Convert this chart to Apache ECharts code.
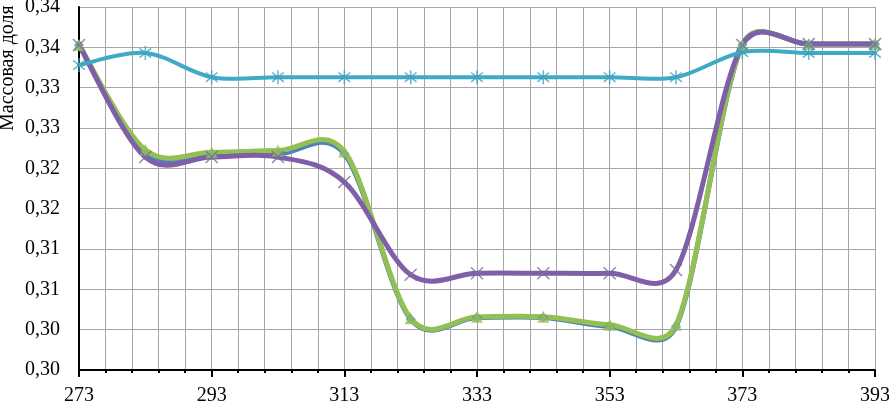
<!DOCTYPE html>
<html>
<head>
<meta charset="utf-8">
<script src="https://cdn.jsdelivr.net/npm/echarts@6/dist/echarts.min.js"></script>
<style>html,body{margin:0;padding:0;background:#fff}#c{width:889px;height:402px}</style>
</head>
<body>
<div id="c"></div>
<script>
// x values (temperature)
var xValues = [273, 283, 293, 303, 313, 323, 333, 343, 353, 363, 373, 383, 393];
// series values (mass fraction, in axis units)
var blueValues   = [0.3403, 0.3268, 0.3267, 0.3268, 0.3268, 0.3063, 0.3065, 0.3065, 0.3054, 0.3054, 0.3403, 0.3404, 0.3404];
var greenValues  = [0.3403, 0.3273, 0.3270, 0.3272, 0.3271, 0.3064, 0.3066, 0.3066, 0.3056, 0.3056, 0.3403, 0.3404, 0.3404];
var purpleValues = [0.3403, 0.3264, 0.3264, 0.3264, 0.3233, 0.3118, 0.3120, 0.3120, 0.3120, 0.3124, 0.3403, 0.3404, 0.3404];
var cyanValues   = [0.3378, 0.3393, 0.3363, 0.3363, 0.3363, 0.3363, 0.3363, 0.3363, 0.3363, 0.3363, 0.3394, 0.3393, 0.3393];
// tick labels
var xTickLabels = [273, 293, 313, 333, 353, 373, 393];
var yTickLabels = ["0,30", "0,30", "0,31", "0,31", "0,32", "0,32", "0,33", "0,33", "0,34", "0,34"];
var yAxisTitle = "Массовая доля";

function pairs(vals) { return xValues.map(function (x, i) { return [x, vals[i]]; }); }

var FONT = '"Liberation Serif", "Times New Roman", serif';
var xSym = 'path://M0,0L10,10M10,0L0,10';
var starSym = 'path://M0,1L10,9M10,1L0,9M5,-1L5,11';

// Smoothed curve (spreadsheet-style Bezier smoothing) drawn via the axes' scales
function ctrlOffset(pa, pb, segLen) {
  var vx = (pb[0] - pa[0]) / 6, vy = (pb[1] - pa[1]) / 6;
  var len = Math.sqrt(vx * vx + vy * vy), lim = segLen / 2;
  if (len > lim && len > 0) { vx *= lim / len; vy *= lim / len; }
  return [vx, vy];
}
function curveSeries(vals, color, width) {
  var n = vals.length;
  return {
    type: 'custom', coordinateSystem: 'cartesian2d', silent: true,
    data: pairs(vals), encode: {x: 0, y: 1},
    renderItem: function (params, api) {
      var i = params.dataIndex;
      if (i >= n - 1) return null;
      function P(j) { j = Math.max(0, Math.min(n - 1, j)); return api.coord([xValues[j], vals[j]]); }
      var p0 = P(i - 1), p1 = P(i), p2 = P(i + 1), p3 = P(i + 2);
      var d12 = Math.sqrt(Math.pow(p2[0] - p1[0], 2) + Math.pow(p2[1] - p1[1], 2));
      var o1 = ctrlOffset(p0, p2, d12), o2 = ctrlOffset(p1, p3, d12);
      return {
        type: 'bezierCurve',
        shape: {
          x1: p1[0], y1: p1[1], x2: p2[0], y2: p2[1],
          cpx1: p1[0] + o1[0], cpy1: p1[1] + o1[1],
          cpx2: p2[0] - o2[0], cpy2: p2[1] - o2[1]
        },
        style: {stroke: color, lineWidth: width, fill: null, lineCap: 'round'}
      };
    }
  };
}
function markerSeries(vals, symbol, size, itemStyle) {
  return {
    type: 'scatter', data: pairs(vals), symbol: symbol, symbolSize: size,
    symbolKeepAspect: true, itemStyle: itemStyle, silent: true
  };
}

var chart = echarts.init(document.getElementById('c'), null, {renderer: 'canvas'});
chart.setOption({
  animation: false,
  backgroundColor: '#fff',
  grid: {left: 79, right: 14, top: 7, bottom: 32, containLabel: false, outerBoundsMode: 'none'},
  graphic: [{
    type: 'text', x: 8, y: 131, rotation: Math.PI / 2,
    style: {text: yAxisTitle, font: '20px ' + FONT, fill: '#000', textAlign: 'left', textVerticalAlign: 'middle'}
  }],
  xAxis: [{
    type: 'value', min: 273, max: 393, interval: 4,
    axisLine: {show: true, lineStyle: {color: '#000', width: 2}},
    axisTick: {show: true, length: 3, lineStyle: {color: '#000', width: 2}},
    splitLine: {show: true, lineStyle: {color: '#a6a6a6', width: 1}},
    axisLabel: {
      show: true, margin: 16, color: '#000', fontFamily: FONT, fontSize: 20,
      showMinLabel: true, showMaxLabel: true, hideOverlap: false,
      formatter: function (v) { return xTickLabels.indexOf(Math.round(v)) >= 0 ? String(Math.round(v)) : ''; }
    }
  }, {
    type: 'value', min: 273, max: 393, interval: 20, position: 'bottom',
    axisLine: {show: false},
    axisTick: {show: true, length: 7, lineStyle: {color: '#000', width: 2}},
    splitLine: {show: false},
    axisLabel: {show: false}
  }],
  yAxis: {
    type: 'value', min: 0.300, max: 0.345, interval: 0.005,
    axisLine: {show: true, lineStyle: {color: '#000', width: 2}},
    axisTick: {show: false},
    splitLine: {show: true, lineStyle: {color: '#a6a6a6', width: 1}},
    axisLabel: {
      margin: 19, color: '#000', fontFamily: FONT, fontSize: 20,
      formatter: function (v) { return yTickLabels[Math.round((v - 0.300) / 0.005)] || ''; }
    }
  },
  series: [
    curveSeries(blueValues, '#4F81BD', 5),
    markerSeries(blueValues, 'diamond', 10, {color: '#4F81BD'}),
    curveSeries(greenValues, '#93C052', 5),
    markerSeries(greenValues, 'triangle', 12, {color: '#93C052'}),
    curveSeries(purpleValues, '#7F5FA8', 5),
    markerSeries(purpleValues, xSym, 12, {color: 'rgba(0,0,0,0)', borderColor: '#7B6A9E', borderWidth: 1.5}),
    curveSeries(cyanValues, '#3FAAC6', 4),
    markerSeries(cyanValues, starSym, 14, {color: 'rgba(0,0,0,0)', borderColor: '#3FA0C0', borderWidth: 1.5})
  ]
});
</script>
</body>
</html>
